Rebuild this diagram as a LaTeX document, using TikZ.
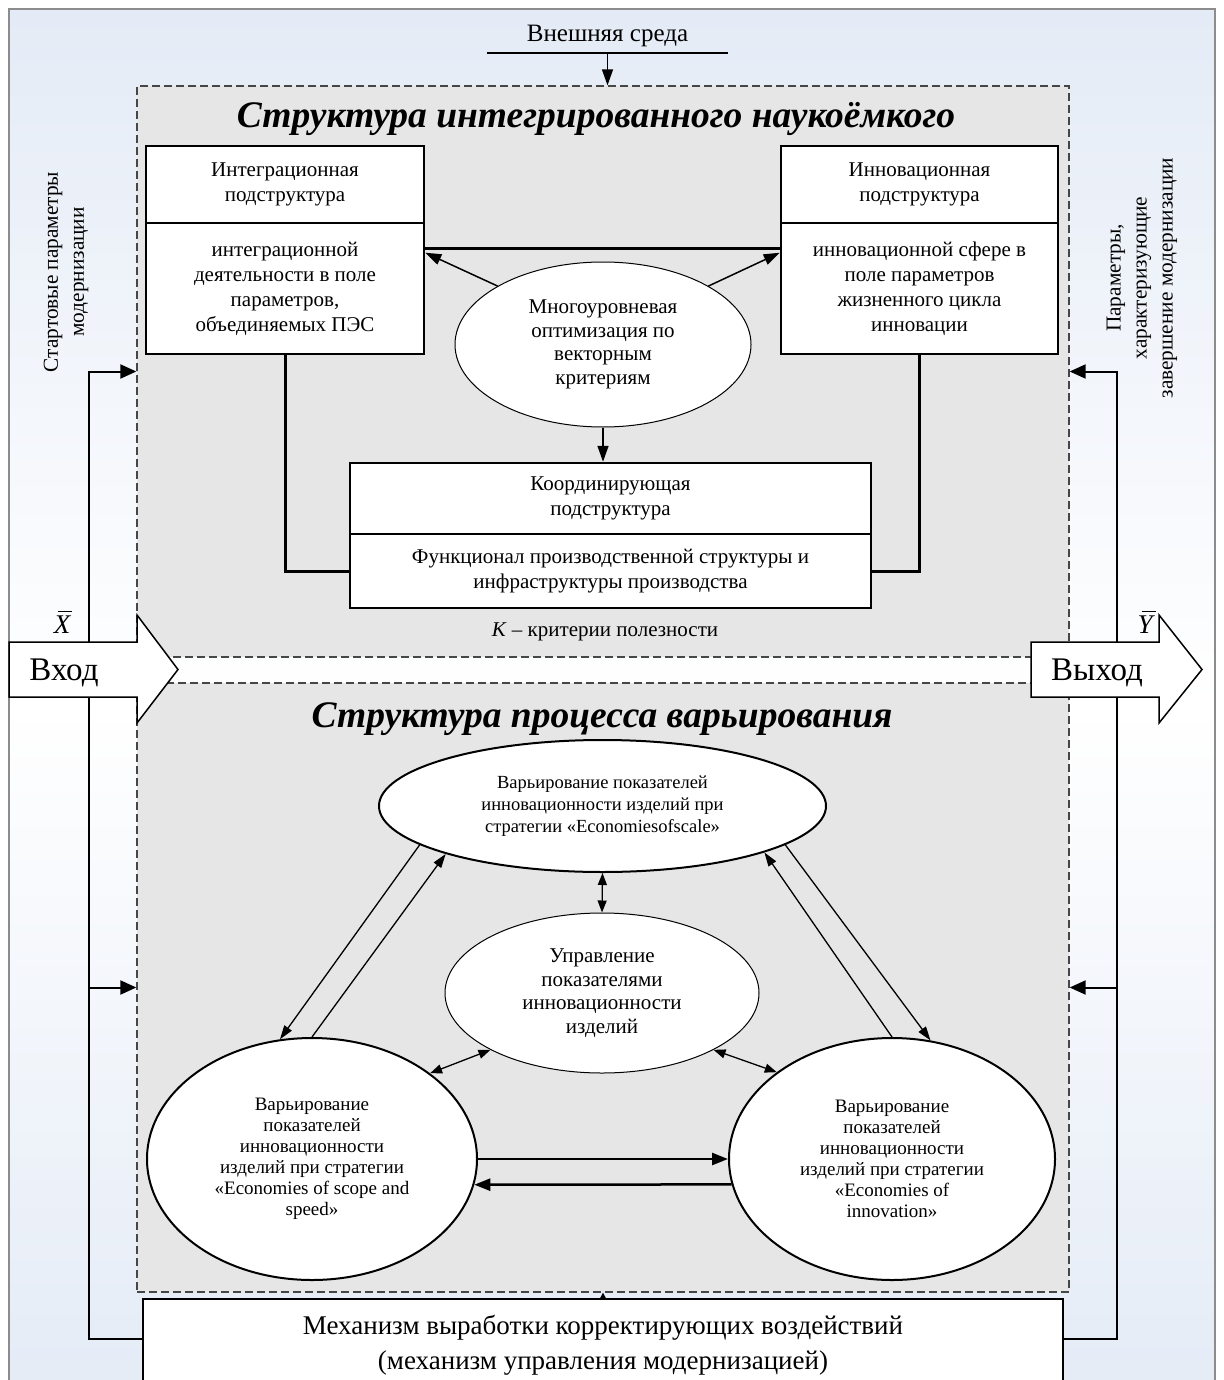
\documentclass[tikz,border=0pt]{standalone}
\usepackage{fontspec}
\setmainfont{Liberation Serif}
\usetikzlibrary{calc,arrows.meta,shapes.geometric}
\definecolor{panelblue}{RGB}{228,235,246}
\definecolor{regiongray}{RGB}{230,230,230}
\definecolor{dashgray}{RGB}{70,70,70}
\definecolor{framegray}{RGB}{140,140,140}
\begin{document}
\begin{tikzpicture}[x=1pt,y=-1pt,
    box/.style={draw,line width=2.5pt,fill=white,inner sep=0pt,align=center,font=\fontsize{21}{25}\selectfont},
    region/.style={draw=dashgray,fill=regiongray,line width=1.3pt,dash pattern=on 8pt off 4pt,inner sep=0pt,minimum width=932pt},
    oval/.style={ellipse,draw,fill=white,inner sep=0pt,align=center},
    heading/.style={anchor=base,font=\fontsize{37.5}{42}\selectfont\bfseries\itshape},
    plain/.style={font=\fontsize{21}{25}\selectfont,align=center},
    barvar/.style={anchor=base,inner sep=0pt,font=\fontsize{27}{30}\selectfont\itshape},
    conn/.style={line width=3pt},
    arr/.style={line width=1.5pt,-{Triangle[length=16pt,width=11pt]}},
    darr/.style={line width=1.3pt,-{Triangle[length=14pt,width=9pt]}},
    dbl/.style={line width=1.3pt,{Triangle[length=12pt,width=9pt]}-{Triangle[length=12pt,width=9pt]}},
    harr/.style={line width=2.5pt,-{Triangle[length=16pt,width=12pt]}},
    feed/.style={line width=2pt,-{Triangle[length=16pt,width=14pt]}},
    bigarrow/.style={fill=white,line width=1.5pt}
  ]
  \useasboundingbox (0,0) rectangle (1223,1380);
  \clip (0,0) rectangle (1223,1380);
  \shade[top color=panelblue,bottom color=panelblue,middle color=white] (9,9) rectangle (1215,1400);
  \draw[framegray,line width=1.5pt] (9,1400) -- (9,9) -- (1215,9) -- (1215,1400);

  \node[region,minimum height=571pt] (upper) at (603,371.5) {};
  \node[region,minimum height=609pt] (lower) at (603,987.5) {};

  \node[plain,font=\fontsize{25}{28}\selectfont,minimum width=241pt,minimum height=34pt,inner sep=0pt] (env) at (607.5,36) {Внешняя среда};
  \draw[line width=1.5pt] (env.south west) -- (env.south east);
  \draw[arr] (env.south) -- (env.south |- upper.north);

  \node[heading] (title1) at (596,128) {Структура интегрированного наукоёмкого};

  \node[box,minimum width=278pt,minimum height=77pt] (integ-head) at (285,184.5) {Интеграционная\\подструктура};
  \node[box,minimum width=278pt,minimum height=131pt] (integ-body) at (285,288.5) {интеграционной\\деятельности в поле\\параметров,\\объединяемых ПЭС};
  \node[box,minimum width=277pt,minimum height=77pt] (innov-head) at (919.5,184.5) {Инновационная\\подструктура};
  \node[box,minimum width=277pt,minimum height=131pt] (innov-body) at (919.5,288.5) {инновационной сфере в\\поле параметров\\жизненного цикла\\инновации};
  \node[oval,line width=1pt,minimum width=296pt,minimum height=165pt,font=\fontsize{21}{23.5}\selectfont] (optim) at (603,344.5) {Многоуровневая\\оптимизация по\\векторным\\критериям};
  \node[box,minimum width=521pt,minimum height=71pt] (coord-head) at (610.5,498.5) {Координирующая\\подструктура};
  \node[box,minimum width=521pt,minimum height=74pt] (coord-body) at (610.5,571) {Функционал производственной структуры и\\инфраструктуры производства};
  \node[plain] (crit) at (605,632) {\textit{К} – критерии полезности};

  \draw[conn] ($(integ-body.north east)+(0,27)$) -- ($(innov-body.north west)+(0,27)$);
  \draw[arr] (optim.151) -- ($(integ-body.north east)+(0,31)$);
  \draw[arr] (optim.29) -- ($(innov-body.north west)+(0,31)$);
  \draw[arr] (optim.south) -- (optim.south |- coord-head.north);
  \draw[conn] (integ-body.south) |- (coord-body.west);
  \draw[conn] (innov-body.south) |- (coord-body.east);

  \node[heading] (title2) at (602,727) {Структура процесса варьирования};

  \node[oval,line width=2pt,minimum width=447pt,minimum height=132pt,font=\fontsize{18.5}{22}\selectfont] (vscale) at (602.5,806) {Варьирование показателей\\инновационности изделий при\\стратегии «Economiesofscale»};
  \node[oval,line width=1pt,minimum width=314pt,minimum height=160pt,font=\fontsize{21}{23.5}\selectfont] (vmanage) at (602,993) {Управление\\показателями\\инновационности\\изделий};
  \node[oval,line width=2pt,minimum width=330pt,minimum height=242pt,font=\fontsize{19}{21}\selectfont] (vscope) at (312,1159) {Варьирование\\показателей\\инновационности\\изделий при стратегии\\«Economies of scope and\\speed»};
  \node[oval,line width=2pt,minimum width=326pt,minimum height=242pt,font=\fontsize{19}{21}\selectfont] (vinnov) at (892,1159) {Варьирование\\показателей\\инновационности\\изделий при стратегии\\«Economies of\\innovation»};

  \draw[darr] (vscale.192) -- (vscope.105);
  \draw[darr] (vscope.north) -- (vscale.197);
  \draw[darr] (vscale.348) -- (vinnov.72);
  \draw[darr] (vinnov.north) -- (vscale.344);
  \draw[dbl] (vscale.south) -- (vmanage.north);
  \draw[dbl] (vscope.36) -- (vmanage.207);
  \draw[dbl] (vmanage.333) -- (vinnov.143);
  \draw[harr] (vscope.east) -- (vinnov.west);
  \draw[harr] (vinnov.189) -- (vscope.351);

  \node[box,line width=2pt,minimum width=920pt,minimum height=92pt,font=\fontsize{27}{35}\selectfont] (mech) at (603,1345) {Механизм выработки корректирующих воздействий\\(механизм управления модернизацией)};
  \draw[line width=1pt,-{Triangle[length=6pt,width=6pt]}] (mech.north) -- (mech.north |- lower.south);

  \draw[feed] ($(mech.north west)+(0,41)$) -| ($(upper.west)+(-47,0)$) -- (upper.west);
  \draw[feed] ($(lower.west)+(-47,0)$) -- (lower.west);
  \draw[feed] ($(mech.north east)+(0,41)$) -| ($(upper.east)+(47,0)$) -- (upper.east);
  \draw[feed] ($(lower.east)+(47,0)$) -- (lower.east);

  \draw[bigarrow] (9,642) -- (137,642) -- (137,615) -- (178,669.5) -- (137,723) -- (137,697) -- (9,697) -- cycle;
  \node[font=\fontsize{33}{36}\selectfont,inner sep=0pt] (vhod) at (64,673) {Вход};
  \draw[bigarrow] (1031,642) -- (1159,642) -- (1159,615) -- (1202,669.5) -- (1159,723) -- (1159,697) -- (1031,697) -- cycle;
  \node[font=\fontsize{33}{36}\selectfont,inner sep=0pt] (vyhod) at (1097,673) {Выход};
  \node[barvar] (xbar) at (62,633) {\rlap{\hspace{4pt}\rule[21pt]{14pt}{1.5pt}}X};
  \node[barvar] (ybar) at (1145,633) {\rlap{\hspace{4pt}\rule[21pt]{14pt}{1.5pt}}Y};

  \node[plain,rotate=90,font=\fontsize{21.3}{26}\selectfont] (start) at (66,272) {Стартовые параметры\\модернизации};
  \node[plain,rotate=90,font=\fontsize{21.3}{26}\selectfont] (finish) at (1142,278) {Параметры,\\характеризующие\\завершение модернизации};
\end{tikzpicture}
\end{document}
